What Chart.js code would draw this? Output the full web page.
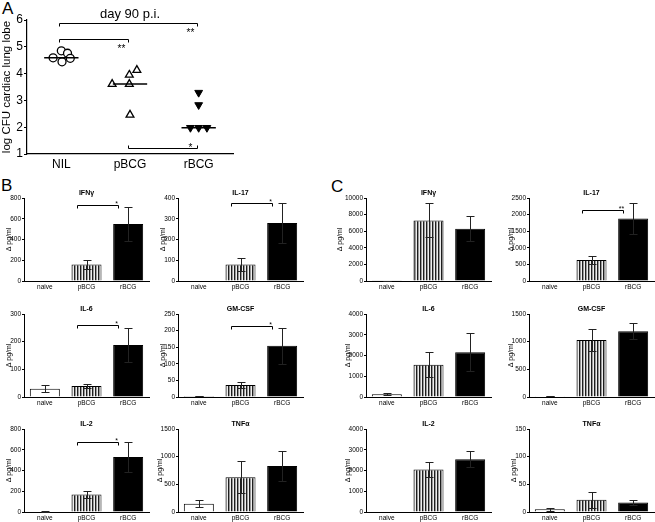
<!DOCTYPE html>
<html>
<head>
<meta charset="utf-8">
<script src="https://cdn.jsdelivr.net/npm/chart.js@4.4.1/dist/chart.umd.min.js"></script>
<style>
  body { margin: 0; background: #fff; width: 655px; height: 522px; position: relative; overflow: hidden;
         font-family: Arial, "Liberation Sans", sans-serif; }
  canvas { position: absolute; }
  .letter { position: absolute; font-size: 17px; line-height: 1; color: #000; }
</style>
</head>
<body>
<div class="letter" style="left:2px;top:0px">A</div>
<div class="letter" style="left:1px;top:177px">B</div>
<div class="letter" style="left:331px;top:178px">C</div>
<script>
const FONT = 'Arial, "Liberation Sans", sans-serif';

// ---- Panel A : log CFU, day 90 p.i.
const groupsA = ['NIL', 'pBCG', 'rBCG'];
const cfuNIL  = [4.59, 4.85, 4.76, 4.44, 4.57];
const cfuPBCG = [3.61, 3.61, 3.95, 4.13, 2.46];
const cfuRBCG = [3.29, 2.83, 1.98, 1.98, 1.98];
// sideways spread of overlapping markers (category units)
const spreadA = [[-0.12, 0, 0.09, 0.01, 0.13], [-0.26, -0.01, -0.01, 0.1, 0], [0, 0, -0.12, 0, 0.12]];
// [from group, to group, y value, label, tick direction]
const bracketsA = [[1, 3, 5.89, '**', 'down'], [1, 2, 5.29, '**', 'down'], [2, 3, 1.22, '*', 'up']];

// ---- Panels B and C : cytokines (mean, sem) for naive / pBCG / rBCG
const groups = ['naive', 'pBCG', 'rBCG'];
const cytokines = ['IFNγ', 'IL-17', 'IL-6', 'GM-CSF', 'IL-2', 'TNFα'];

const bIFNg = [0, 160, 550],   bIFNgSem = [0, 40, 160];
const bIL17 = [0, 80, 280],    bIL17Sem = [0, 33, 98];
const bIL6  = [30, 40, 188],   bIL6Sem  = [12, 8, 63];
const bGMCSF = [3, 36, 154],   bGMCSFSem = [1, 8, 55];
const bIL2  = [5, 168, 530],   bIL2Sem  = [3, 30, 140];
const bTNFa = [150, 630, 830], bTNFaSem = [60, 290, 270];
const yMaxB  = [800, 400, 300, 250, 800, 1500];
const yStepB = [200, 100, 100, 50, 200, 500];
const sigB = [[735, '*'], [375, '*'], [262, '*'], [214, '*'], [671, '*'], null];

const cIFNg = [40, 7300, 6300],  cIFNgSem = [10, 2050, 1530];
const cIL17 = [0, 630, 1880],    cIL17Sem = [0, 130, 470];
const cIL6  = [130, 1560, 2160], cIL6Sem  = [40, 600, 920];
const cGMCSF = [15, 1030, 1190], cGMCSFSem = [5, 200, 150];
const cIL2  = [0, 2050, 2540],   cIL2Sem  = [0, 380, 390];
const cTNFa = [5, 22, 17],       cTNFaSem = [3, 14, 5];
const yMaxC  = [10000, 2500, 4000, 1500, 4000, 150];
const yStepC = [2000, 500, 1000, 500, 1000, 50];
const sigC = [null, [2149, '**'], null, null, null, null];

Chart.defaults.font.family = FONT;
Chart.defaults.color = '#000';

function makeCanvas(left, top, w, h) {
  const c = document.createElement('canvas');
  c.width = w; c.height = h;
  c.style.left = left + 'px'; c.style.top = top + 'px';
  c.style.width = w + 'px'; c.style.height = h + 'px';
  document.body.appendChild(c);
  return c;
}

function stripes() {
  const c = document.createElement('canvas');
  c.width = 3; c.height = 4;
  const g = c.getContext('2d');
  g.fillStyle = '#1e1e1e'; g.fillRect(0, 0, 1, 4);
  g.fillStyle = '#999';    g.fillRect(1, 0, 1, 4);
  g.fillStyle = '#eee';    g.fillRect(2, 0, 1, 4);
  return g.createPattern(c, 'repeat');
}
const stripeFill = stripes();

const errorBars = {
  id: 'errorBars',
  afterDatasetsDraw(chart, args, opts) {
    if (!opts.sem) return;
    const ctx = chart.ctx, ys = chart.scales.y;
    const vals = chart.data.datasets[0].data;
    ctx.save();
    ctx.strokeStyle = '#222';
    ctx.lineWidth = 1;
    chart.getDatasetMeta(0).data.forEach((bar, i) => {
      const s = opts.sem[i];
      if (!s) return;
      const x = Math.round(bar.x) + 0.5;
      const yt = Math.round(ys.getPixelForValue(vals[i] + s)) + 0.5;
      const yb = Math.round(ys.getPixelForValue(Math.max(0, vals[i] - s))) + 0.5;
      ctx.beginPath();
      ctx.moveTo(x, yt); ctx.lineTo(x, yb);
      ctx.moveTo(x - 4, yt); ctx.lineTo(x + 4, yt);
      ctx.moveTo(x - 4, yb); ctx.lineTo(x + 4, yb);
      ctx.stroke();
    });
    ctx.restore();
  }
};

const decor = {
  id: 'decor',
  afterDraw(chart, args, opts) {
    const {ctx, chartArea: a, scales: {x, y}} = chart;
    ctx.save();
    ctx.fillStyle = '#000';
    if (opts.title) {
      ctx.font = opts.titleFont;
      ctx.textAlign = 'center';
      ctx.textBaseline = 'middle';
      ctx.fillText(opts.title, (a.left + a.right) / 2, a.top + opts.titleDy);
    }
    ctx.strokeStyle = '#000';
    ctx.lineWidth = 1;
    (opts.brackets || []).forEach(([g1, g2, v, label, dir]) => {
      const x1 = Math.round(x.getPixelForValue(g1) + opts.bx) + 0.5;
      const x2 = Math.round(x.getPixelForValue(g2) + opts.bx) + 0.5;
      const yy = Math.round(y.getPixelForValue(v)) + 0.5;
      const t = dir === 'up' ? -3 : 3;
      ctx.beginPath();
      ctx.moveTo(x1, yy + t); ctx.lineTo(x1, yy); ctx.lineTo(x2, yy); ctx.lineTo(x2, yy + t);
      ctx.stroke();
      ctx.font = opts.starFont;
      ctx.textAlign = 'center';
      ctx.textBaseline = 'alphabetic';
      ctx.fillText(label, x2 + opts.sx, yy + (dir === 'up' ? opts.syUp : opts.syDown));
    });
    ctx.restore();
  }
};

// ---- Panel A
(function () {
  const yw = 27, padTop = 20, xh = 22, padRight = 12, plotW = 206, plotH = 134;
  const cv = makeCanvas(0, 0, yw + plotW + padRight, padTop + plotH + xh);
  const sets = [cfuNIL, cfuPBCG, cfuRBCG];
  const median = arr => { const s = [...arr].sort((a, b) => a - b); return s[Math.floor(s.length / 2)]; };
  const pts = (arr, g) => arr.map((v, i) => ({x: g + 1 + spreadA[g][i], y: v}));
  const medLines = sets.map((arr, g) => ({
    data: [{x: g + 0.75, y: median(arr)}, {x: g + 1.25, y: median(arr)}],
    showLine: true, borderColor: '#000', borderWidth: 1.6, pointRadius: 0
  }));
  new Chart(cv, {
    type: 'scatter',
    data: {
      datasets: [
        ...medLines,
        {data: pts(cfuNIL, 0), pointStyle: 'circle', pointRadius: 4, pointBackgroundColor: '#fff',
         pointBorderColor: '#000', pointBorderWidth: 1.3},
        {data: pts(cfuPBCG, 1), pointStyle: 'triangle', pointRadius: 4.5, pointBackgroundColor: '#fff',
         pointBorderColor: '#000', pointBorderWidth: 1.3},
        {data: pts(cfuRBCG, 2), pointStyle: 'triangle', rotation: 180, pointRadius: 4.5,
         pointBackgroundColor: '#000', pointBorderColor: '#000', pointBorderWidth: 1}
      ]
    },
    options: {
      responsive: false, animation: false, devicePixelRatio: 1,
      layout: {padding: {left: 0, top: padTop, right: padRight, bottom: 0}},
      plugins: {
        legend: {display: false}, tooltip: {enabled: false},
        decor: {title: 'day 90 p.i.', titleFont: `13px ${FONT}`, titleDy: -6,
                brackets: bracketsA, bx: -2, starFont: `10px ${FONT}`, sx: -7, syDown: 12, syUp: 2}
      },
      scales: {
        x: {
          type: 'linear', min: 0.5, max: 3.5,
          afterBuildTicks: s => { s.ticks = [1, 2, 3].map(v => ({value: v})); },
          ticks: {callback: v => groupsA[v - 1], font: {size: 12}, padding: 3, maxRotation: 0},
          grid: {display: true, drawOnChartArea: false, drawTicks: false},
          border: {display: true, color: '#000', width: 1.2},
          afterFit: s => { s.height = xh; }
        },
        y: {
          min: 1, max: 6,
          ticks: {stepSize: 1, font: {size: 12}, padding: 1},
          grid: {display: true, drawOnChartArea: false, tickLength: 3, tickColor: '#000'},
          border: {display: true, color: '#000', width: 1.2},
          title: {display: true, text: 'log CFU cardiac lung lobe', font: {size: 11.5}, padding: {top: 0, bottom: 0}},
          afterFit: s => { s.width = yw; }
        }
      }
    },
    plugins: [decor]
  });
})();

// ---- Panels B and C
function barPanel(plotLeft, plotTop, title, mean, sem, yMax, yStep, sig) {
  const digits = String(yMax).length;
  const yw = digits <= 3 ? 19 : digits === 4 ? 22 : 30;
  const padTop = 14, xh = 14, padRight = 4, plotW = 125, plotH = 83;
  const cv = makeCanvas(plotLeft - yw, plotTop - padTop, yw + plotW + padRight, padTop + plotH + xh);
  new Chart(cv, {
    type: 'bar',
    data: {
      labels: groups,
      datasets: [{
        data: mean,
        backgroundColor: ['#fff', stripeFill, '#000'],
        borderColor: '#000', borderWidth: 1,
        barPercentage: 0.72, categoryPercentage: 1
      }]
    },
    options: {
      responsive: false, animation: false, devicePixelRatio: 1,
      layout: {padding: {left: 0, top: padTop, right: padRight, bottom: 0}},
      plugins: {
        legend: {display: false}, tooltip: {enabled: false},
        errorBars: {sem: sem},
        decor: {title: title, titleFont: `bold 7px ${FONT}`, titleDy: -5,
                brackets: sig ? [[1, 2, sig[0], sig[1], 'down']] : [],
                bx: -10, starFont: `7px ${FONT}`, sx: -2, syDown: 0, syUp: 0}
      },
      scales: {
        x: {
          ticks: {font: {size: 6.5}, padding: 2},
          grid: {display: true, drawOnChartArea: false, drawTicks: false},
          border: {display: true, color: '#000', width: 1},
          afterFit: s => { s.height = xh; }
        },
        y: {
          min: 0, max: yMax,
          ticks: {stepSize: yStep, font: {size: 6.5}, padding: 1, callback: v => String(v)},
          grid: {display: true, drawOnChartArea: false, tickLength: 2, tickColor: '#000'},
          border: {display: true, color: '#000', width: 1},
          title: {display: true, text: 'Δ pg/ml', font: {size: 7}, padding: {top: 0, bottom: 0}},
          afterFit: s => { s.width = yw; }
        }
      }
    },
    plugins: [errorBars, decor]
  });
}

const rowTop = [198, 314, 429];
const colB = [24, 178], colC = [366, 529];
const meansB = [bIFNg, bIL17, bIL6, bGMCSF, bIL2, bTNFa];
const semsB  = [bIFNgSem, bIL17Sem, bIL6Sem, bGMCSFSem, bIL2Sem, bTNFaSem];
const meansC = [cIFNg, cIL17, cIL6, cGMCSF, cIL2, cTNFa];
const semsC  = [cIFNgSem, cIL17Sem, cIL6Sem, cGMCSFSem, cIL2Sem, cTNFaSem];

cytokines.forEach((name, k) => {
  const r = Math.floor(k / 2), c = k % 2;
  barPanel(colB[c], rowTop[r], name, meansB[k], semsB[k], yMaxB[k], yStepB[k], sigB[k]);
  barPanel(colC[c], rowTop[r], name, meansC[k], semsC[k], yMaxC[k], yStepC[k], sigC[k]);
});
</script>
</body>
</html>
